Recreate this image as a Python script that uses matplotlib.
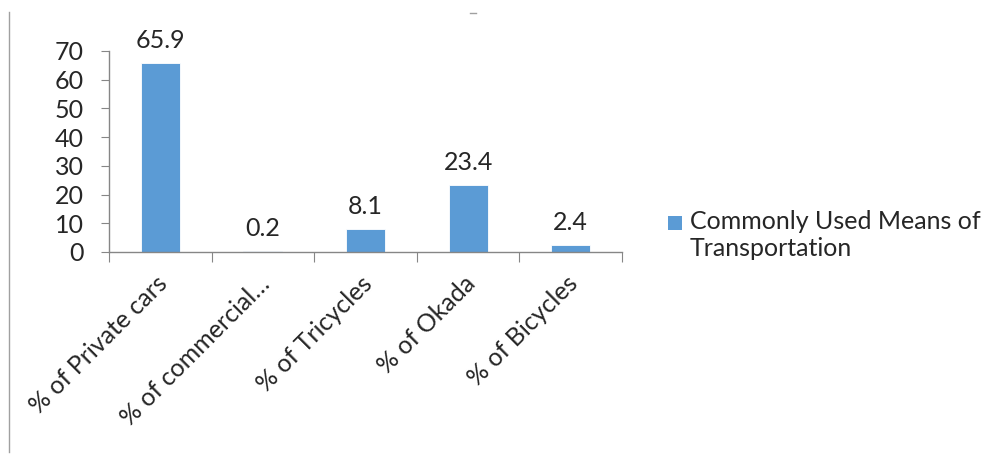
import matplotlib.pyplot as plt
from matplotlib.patches import Rectangle
from matplotlib.lines import Line2D
from matplotlib.transforms import ScaledTranslation

# Chart data
categories = ['% of Private cars', '% of commercial…', '% of Tricycles',
              '% of Okada', '% of Bicycles']
values = [65.9, 0.2, 8.1, 23.4, 2.4]
series_name = 'Commonly Used Means of\nTransportation'
y_ticks = [0, 10, 20, 30, 40, 50, 60, 70]

bar_color = '#5B9BD5'
axis_color = '#868686'
text_color = '#262626'
fs = 18
plt.rcParams['font.family'] = ['Lato', 'DejaVu Sans']

fig = plt.figure(figsize=(10.03, 4.54), dpi=100)
ax = fig.add_axes([0.1087, 0.445, 0.5115, 0.443])

x = list(range(len(categories)))
ax.bar(x, values, width=0.38, color=bar_color, edgecolor='white', linewidth=0.6)

for xi, v in zip(x, values):
    ax.annotate(f'{v}', (xi, v), xytext=(0, 8), textcoords='offset points',
                ha='center', va='bottom', fontsize=fs, color=text_color)

ax.set_xlim(-0.5, len(categories) - 0.5)
ax.set_ylim(0, 70)
ax.set_yticks(y_ticks)
ax.tick_params(axis='y', labelsize=fs, length=6, color=axis_color,
               labelcolor=text_color, pad=12)

# category boundaries get the ticks, labels sit at the centres
ax.set_xticks([i - 0.5 for i in range(len(categories) + 1)])
ax.set_xticklabels([])
ax.set_xticks(x, minor=True)
ax.set_xticklabels(categories, minor=True, rotation=45, ha='right',
                   va='center', rotation_mode='anchor', fontsize=fs,
                   color=text_color)
ax.tick_params(axis='x', which='major', length=7, color=axis_color)
ax.tick_params(axis='x', which='minor', length=0, pad=0)
shift = ScaledTranslation(3 / 100, -28 / 100, fig.dpi_scale_trans)
for lab in ax.get_xticklabels(minor=True):
    lab.set_transform(lab.get_transform() + shift)

for side in ['top', 'right']:
    ax.spines[side].set_visible(False)
for side in ['left', 'bottom']:
    ax.spines[side].set_color(axis_color)
    ax.spines[side].set_linewidth(1)

# legend drawn by hand so the marker sits on the first line
fig.patches.append(Rectangle((668 / 1003, 1 - 230 / 454), 14 / 1003, 14 / 454,
                             transform=fig.transFigure, facecolor=bar_color,
                             edgecolor='none'))
fig.text(690 / 1003, 1 - 210 / 454, series_name, fontsize=fs, color=text_color,
         va='top', ha='left', linespacing=1.2)

# frame edge on the left and the small mark at the top
fig.lines.append(Line2D([9 / 1003, 9 / 1003], [1 - 12 / 454, 1 - 452 / 454],
                        transform=fig.transFigure, color='#a0a0a0', linewidth=1))
fig.lines.append(Line2D([470 / 1003, 476 / 1003], [1 - 13 / 454, 1 - 13 / 454],
                        transform=fig.transFigure, color='#a0a0a0', linewidth=1))

fig.savefig('out.png', dpi=100, facecolor='white')
